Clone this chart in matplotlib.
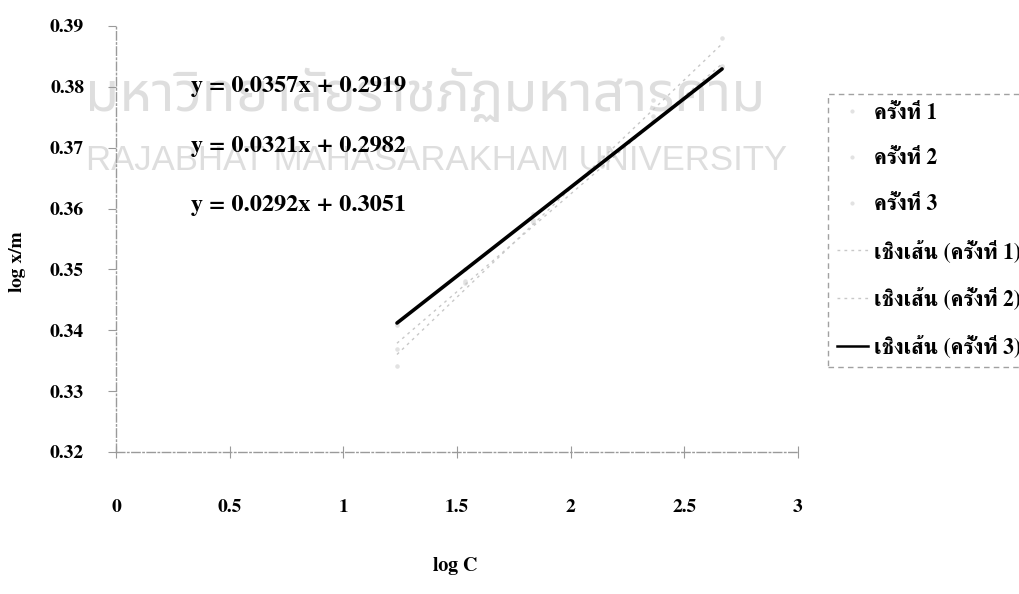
import matplotlib
matplotlib.use("Agg")
import matplotlib.pyplot as plt
from matplotlib.lines import Line2D

# Data (markers are almost washed out in the original)
log_c = [1.236, 1.534, 1.835, 2.137, 2.364, 2.666]
run1 = [0.3342, 0.3481, 0.3578, 0.3684, 0.3779, 0.3881]
run2 = [0.3370, 0.3478, 0.3581, 0.3670, 0.3752, 0.3835]
run3 = [0.3409, 0.3500, 0.3591, 0.3672, 0.3744, 0.3832]
slopes = [0.0357, 0.0321, 0.0292]
intercepts = [0.2919, 0.2982, 0.3051]
run_labels = ['ครั้งที่ 1', 'ครั้งที่ 2', 'ครั้งที่ 3']
fit_labels = ['เชิงเส้น (ครั้งที่ 1)', 'เชิงเส้น (ครั้งที่ 2)', 'เชิงเส้น (ครั้งที่ 3)']
x_ticks = [0, 0.5, 1, 1.5, 2, 2.5, 3]
x_ticklabels = ['0', '0.5', '1', '1.5', '2', '2.5', '3']
y_ticks = [0.32, 0.33, 0.34, 0.35, 0.36, 0.37, 0.38, 0.39]

plt.rcParams['font.family'] = ['FreeSerif', 'DejaVu Serif']
plt.rcParams['font.weight'] = 'bold'

W, H = 1019, 594
fig = plt.figure(figsize=(W / 100, H / 100), dpi=100)

# faint university watermark, kept behind the chart
fig.text(85 / W, 1 - 97 / H, 'มหาวิทยาลัยราชภัฏมหาสารคาม', family='Noto Sans Thai',
         fontweight='light', fontsize=40, color='#dedede', va='center', ha='left', zorder=-5)
fig.text(86 / W, 1 - 160 / H, 'RAJABHAT MAHASARAKHAM UNIVERSITY',
         family=['Liberation Sans Narrow', 'Liberation Sans'],
         fontweight='normal', fontsize=25, color='#dedede', va='center', ha='left', zorder=-5)

ax = fig.add_axes([116 / W, 1 - 452 / H, (798 - 116) / W, (452 - 26) / H])
ax.patch.set_alpha(0)

faint = '#c8c8c8'
for ys in [run1, run2, run3]:
    ax.scatter(log_c, ys, s=5, color='#e2e2e2', zorder=2)

x0, x1 = min(log_c), max(log_c)
fit_styles = [dict(color=faint, lw=1, ls=(0, (2, 3))),
              dict(color=faint, lw=1, ls=(0, (2, 3))),
              dict(color='black', lw=2.6, ls='-')]
for m, b, st in zip(slopes, intercepts, fit_styles):
    ax.plot([x0, x1], [m * x0 + b, m * x1 + b], solid_capstyle='round', zorder=3, **st)

ax.set_xlim(0, 3)
ax.set_ylim(0.32, 0.39)
ax.set_xticks(x_ticks)
ax.set_xticklabels(x_ticklabels)
ax.set_yticks(y_ticks)
ax.set_yticklabels(['%.2f' % v for v in y_ticks])
for s in ['top', 'right']:
    ax.spines[s].set_visible(False)
for s in ['left', 'bottom']:
    ax.spines[s].set_color('#9a9a9a')
    ax.spines[s].set_linestyle((0, (6, 2, 1, 2)))
    ax.spines[s].set_linewidth(1)
ax.tick_params(axis='y', direction='out', length=6, color='#9a9a9a', pad=17, labelsize=14)
ax.tick_params(axis='x', direction='inout', length=8, color='#9a9a9a', pad=30, labelsize=14)

eq_y = [0.380, 0.3702, 0.3605]
for m, b, yy in zip(slopes, intercepts, eq_y):
    ax.text(0.33, yy, 'y = %.4fx + %.4f' % (m, b), fontsize=17.5, fontweight='bold',
            va='center', ha='left')

fig.text(18 / W, 1 - 262 / H, 'log x/m', rotation=90, fontsize=14, va='center', ha='center')
fig.text(455 / W, 1 - 566 / H, 'log C', fontsize=14.5, va='center', ha='center')

handles = [Line2D([], [], ls='none', marker='o', ms=2, color='#e2e2e2') for _ in range(3)]
handles += [Line2D([], [], **fit_styles[0]), Line2D([], [], **fit_styles[1]),
            Line2D([], [], color='black', lw=1.8)]
leg = fig.legend(handles, run_labels + fit_labels, loc='upper left',
                 bbox_to_anchor=(828 / W, 1 - 94 / H), borderaxespad=0,
                 fontsize=15.5, labelspacing=1.15, handlelength=1.45, handletextpad=0.3,
                 borderpad=0.4, frameon=True, fancybox=False)
fr = leg.get_frame()
fr.set_edgecolor('#8a8a8a')
fr.set_linestyle((0, (4, 3)))
fr.set_linewidth(1)

fig.savefig('out.png', dpi=100)
